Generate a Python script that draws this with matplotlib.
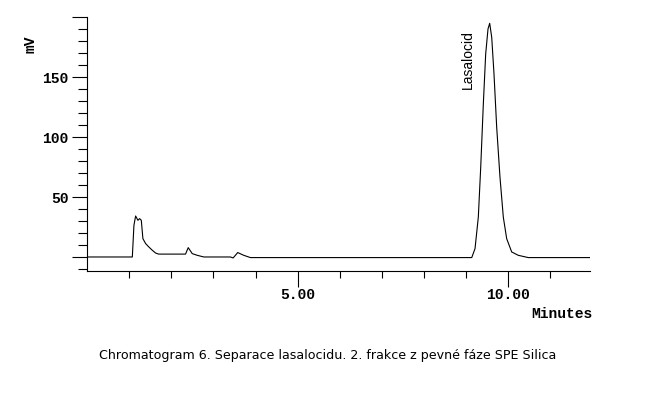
import matplotlib
matplotlib.use('Agg')
import matplotlib.pyplot as plt
import numpy as np

# trace (minutes, mV)
time_min = [0.0, 1.076, 1.114, 1.154, 1.209, 1.249, 1.289, 1.327, 1.391, 1.469,
            1.55, 1.628, 1.70, 2.339, 2.403, 2.498, 2.616, 2.773, 3.405, 3.469, 3.578,
            3.72, 3.879, 9.133, 9.211, 9.289, 9.346, 9.408, 9.464, 9.519, 9.559,
            9.607, 9.661, 9.725, 9.803, 9.882, 9.962, 10.081, 10.237, 10.474, 11.94]
signal_mv = [0.0, 0.0, 26.4, 34.2, 30.6, 32.0, 30.6, 15.3, 11.2, 8.3,
             5.6, 3.3, 2.4, 2.4, 7.8, 2.8, 1.4, 0.0, 0.0, -0.8, 3.7,
             1.4, -0.5, -0.5, 7.0, 33.3, 75.0, 127.8, 169.5, 190.3, 195.0,
             183.3, 152.8, 108.3, 66.7, 33.3, 15.3, 4.2, 1.4, -0.5, -0.5]

peak_name = 'Lasalocid'
peak_pos = (9.045, 164.7)

x_major = [5, 10]
x_major_labels = ['5.00', '10.00']
x_minor = [1, 2, 3, 4, 6, 7, 8, 9, 11]
y_major = [0, 50, 100, 150, 200]
y_major_labels = ['', '50', '100', '150', '']
y_minor = [-10, 10, 20, 30, 40, 60, 70, 80, 90, 110, 120, 130, 140, 160, 170, 180, 190]

caption = 'Chromatogram 6. Separace lasalocidu. 2. frakce z pevné fáze SPE Silica'

W, H = 667, 396
fig = plt.figure(figsize=(W / 100, H / 100), dpi=100)
ax = fig.add_axes([87 / W, 1 - 271 / H, (590 - 87) / W, (271 - 17.3) / H])

ax.plot(time_min, signal_mv, color='black', lw=0.8)
ax.set_xlim(0, 11.94)
ax.set_ylim(-11.7, 200)

for s in ['top', 'right']:
    ax.spines[s].set_visible(False)
for s in ['left', 'bottom']:
    ax.spines[s].set_linewidth(0.8)

mono = dict(family='Liberation Mono', weight='bold', size=10.5)

ax.set_xticks(x_major)
ax.set_xticklabels(x_major_labels, fontdict=mono)
ax.set_xticks(x_minor, minor=True)
ax.set_yticks(y_major)
ax.set_yticklabels(y_major_labels, fontdict=mono)
ax.set_yticks(y_minor, minor=True)

ax.tick_params(axis='x', which='major', direction='out', length=11.5, width=0.8, pad=0.5)
ax.tick_params(axis='x', which='minor', direction='out', length=5.3, width=0.8)
ax.tick_params(axis='y', which='major', direction='out', length=10.8, width=0.8, pad=2.5)
ax.tick_params(axis='y', which='minor', direction='out', length=6.5, width=0.8)

ax.text(peak_pos[0], peak_pos[1], peak_name, rotation=90, ha='center', va='center',
        family='Liberation Sans', fontsize=10)

fig.text(592 / W, 1 - 318.5 / H, 'Minutes', ha='right', va='baseline', **mono)
fig.text(31 / W, 1 - 44 / H, 'mV', rotation=90, ha='center', va='center', **mono)
fig.text(327.5 / W, 1 - 355 / H, caption, ha='center', va='center',
         family='DejaVu Sans', fontsize=9.1)

fig.savefig('out.png', dpi=100)
